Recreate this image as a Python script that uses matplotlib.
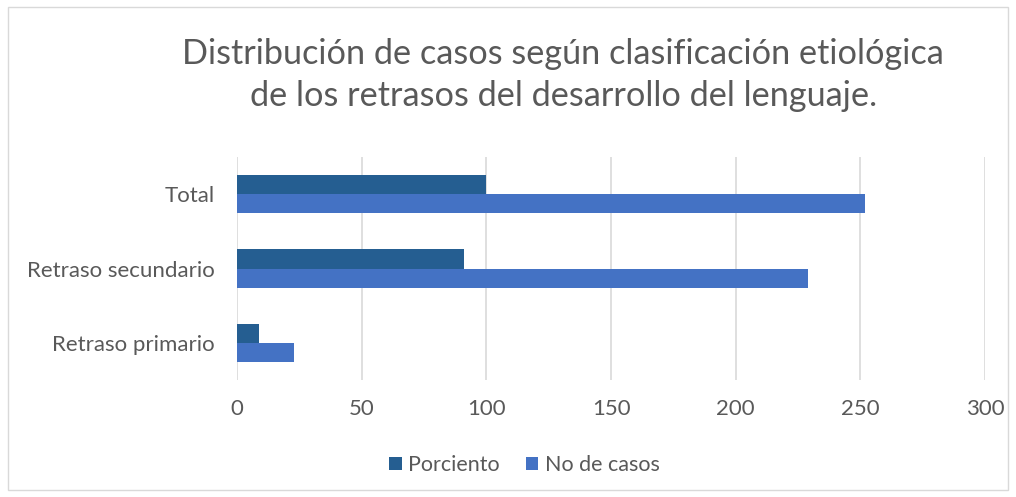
import matplotlib
matplotlib.use("Agg")
import matplotlib.pyplot as plt
from matplotlib.patches import Rectangle
import numpy as np

categories = ["Retraso primario", "Retraso secundario", "Total"]
porciento = [9, 91, 100]
no_casos = [23, 229, 252]
x_ticks = [0, 50, 100, 150, 200, 250, 300]

title = "Distribución de casos según clasificación etiológica\nde los retrasos del desarrollo del lenguaje."

plt.rcParams['font.family'] = ['Lato', 'DejaVu Sans']
text_color = '#595959'
grid_color = '#d9d9d9'

fig = plt.figure(figsize=(10.16, 4.97), dpi=100)
ax = fig.add_axes([0.2333, 0.2354, 0.7362, 0.4487])

y = np.arange(len(categories))
h = 0.26
ax.barh(y + h / 2, porciento, height=h, color='#255E91', label='Porciento', zorder=3)
ax.barh(y - h / 2, no_casos, height=h, color='#4472C4', label='No de casos', zorder=3)

ax.set_xlim(0, 300)
ax.set_ylim(-0.5, 2.5)
ax.set_xticks(x_ticks)
ax.set_xticklabels([str(t) for t in x_ticks], fontsize=16, color=text_color)
ax.set_yticks(y)
ax.set_yticklabels(categories, fontsize=16, color=text_color)
ax.tick_params(length=0, pad=16, axis='y')
ax.tick_params(length=0, pad=14, axis='x')
ax.grid(axis='x', color=grid_color, linewidth=1.2, zorder=0)
for s in ax.spines.values():
    s.set_visible(False)

fig.text(0.5545, 0.849, title, ha='center', va='center', fontsize=24.7,
         color=text_color, linespacing=1.38)

fig.legend(loc='center', bbox_to_anchor=(0.516, 0.064), ncol=2, frameon=False,
           fontsize=15.5, handlelength=0.6, handleheight=0.6, handletextpad=0.3,
           columnspacing=1.2, labelcolor=text_color)

fig.patches.append(Rectangle((0.008, 0.014), 0.984, 0.972, transform=fig.transFigure,
                             fill=False, edgecolor=grid_color, linewidth=1))

fig.savefig('out.png', dpi=100)
